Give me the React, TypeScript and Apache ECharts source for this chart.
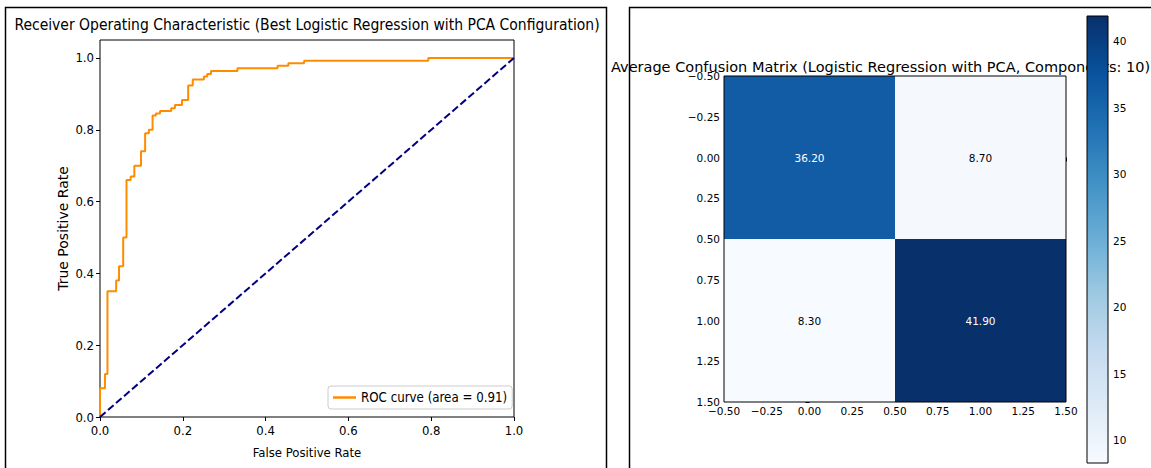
import React, { useEffect, useRef } from "react";
import * as echarts from "echarts";

// ROC curve corner points (false positive rate, true positive rate)
const fpr = [0, 0, 0.012, 0.012, 0.018, 0.018, 0.039, 0.039, 0.046, 0.046, 0.056, 0.056, 0.064, 0.064, 0.074, 0.074, 0.083, 0.083, 0.099, 0.099, 0.109, 0.109, 0.118, 0.118, 0.127, 0.127, 0.135, 0.135, 0.145, 0.145, 0.172, 0.172, 0.181, 0.181, 0.198, 0.198, 0.213, 0.213, 0.224, 0.224, 0.251, 0.251, 0.259, 0.259, 0.268, 0.268, 0.332, 0.332, 0.429, 0.429, 0.455, 0.455, 0.493, 0.493, 0.793, 0.793, 1.0];
const tpr = [0, 0.08, 0.08, 0.12, 0.12, 0.35, 0.35, 0.38, 0.38, 0.42, 0.42, 0.5, 0.5, 0.66, 0.66, 0.67, 0.67, 0.7, 0.7, 0.74, 0.74, 0.79, 0.79, 0.8, 0.8, 0.84, 0.84, 0.845, 0.845, 0.852, 0.852, 0.86, 0.86, 0.869, 0.869, 0.883, 0.883, 0.923, 0.923, 0.94, 0.94, 0.948, 0.948, 0.955, 0.955, 0.964, 0.964, 0.971, 0.971, 0.978, 0.978, 0.985, 0.985, 0.992, 0.992, 1.0, 1.0];
const rocAuc = 0.91;
const chanceLine = [[0, 0], [1, 1]];
const rocTicks = [0, 0.2, 0.4, 0.6, 0.8, 1.0];

// Averaged confusion matrix cells (column, row, value)
const cmCols = [0, 1, 0, 1];
const cmRows = [0, 0, 1, 1];
const cmValues = [36.2, 8.7, 8.3, 41.9];
const nComponents = 10;

// Colour bar range and ticks
const cbMin = Math.min(...cmValues);
const cbMax = Math.max(...cmValues);
const cbTicks = [10, 15, 20, 25, 30, 35, 40];

// matplotlib "Blues" colormap
const blues = ["#f7fbff", "#deebf7", "#c6dbef", "#9ecae1", "#6baed6", "#4292c6", "#2171b5", "#08519c", "#08306b"];

const hexToRgb = (h: string) => [1, 3, 5].map((i) => parseInt(h.slice(i, i + 2), 16));
const bluesAt = (t: number) => {
  const c = Math.max(0, Math.min(1, t)) * (blues.length - 1);
  const i = Math.min(blues.length - 2, Math.floor(c));
  const f = c - i;
  const a = hexToRgb(blues[i]);
  const b = hexToRgb(blues[i + 1]);
  const m = a.map((v, k) => Math.round(v + (b[k] - v) * f));
  return `rgb(${m[0]},${m[1]},${m[2]})`;
};

const narrow = "'DejaVu Sans Condensed', 'Liberation Sans Narrow', 'DejaVu Sans', sans-serif";
const dejavu = "'DejaVu Sans', sans-serif";
const fmtSigned = (v: number) => (v < -1e-9 ? "\u2212" : "") + Math.abs(v).toFixed(2);

export default function App() {
  const ref = useRef<HTMLDivElement>(null);

  useEffect(() => {
    if (!ref.current) return;
    const chart = echarts.init(ref.current, undefined, { renderer: "svg" });
    const legendName = `ROC curve (area = ${rocAuc.toFixed(2)})`;
    const threshold = (cbMin + cbMax) / 2;

    const option: any = {
      animation: false,
      backgroundColor: "#fff",
      grid: [
        { left: 100, top: 40, width: 414, height: 377, show: true, borderColor: "#000", borderWidth: 1, backgroundColor: "transparent" },
        { left: 724, top: 76, width: 342, height: 326, show: false },
        { left: 1087, top: 16, width: 21, height: 447, show: false },
      ],
      xAxis: [
        {
          gridIndex: 0, type: "value", min: 0, max: 1, interval: 0.2,
          axisLine: { show: false }, splitLine: { show: false },
          axisTick: { length: 4, lineStyle: { color: "#000" } },
          axisLabel: { formatter: (v: number) => v.toFixed(1), color: "#000", fontFamily: narrow, fontSize: 13, margin: 7 },
          name: "False Positive Rate", nameLocation: "middle", nameGap: 29,
          nameTextStyle: { color: "#000", fontFamily: narrow, fontSize: 13 },
        },
        {
          gridIndex: 1, type: "value", min: -0.5, max: 1.5, interval: 0.25,
          axisLine: { show: false }, splitLine: { show: false },
          axisTick: { length: 4, lineStyle: { color: "#000" } },
          axisLabel: { formatter: fmtSigned, color: "#000", fontFamily: dejavu, fontSize: 10.5, margin: 3 },
        },
        { gridIndex: 2, type: "value", min: 0, max: 1, show: false },
      ],
      yAxis: [
        {
          gridIndex: 0, type: "value", min: 0, max: 1.05,
          axisLine: { show: false }, splitLine: { show: false },
          axisTick: { length: 4, lineStyle: { color: "#000" }, customValues: rocTicks },
          axisLabel: { formatter: (v: number) => v.toFixed(1), color: "#000", fontFamily: narrow, fontSize: 13, margin: 6, customValues: rocTicks },
          name: "True Positive Rate", nameLocation: "middle", nameGap: 30,
          nameTextStyle: { color: "#000", fontFamily: dejavu, fontSize: 14 },
        },
        {
          gridIndex: 1, type: "value", min: -0.5, max: 1.5, interval: 0.25, inverse: true,
          axisLine: { show: false }, splitLine: { show: false },
          axisTick: { length: 4, lineStyle: { color: "#000" } },
          axisLabel: { formatter: fmtSigned, color: "#000", fontFamily: dejavu, fontSize: 10.5, margin: 4 },
        },
        {
          gridIndex: 2, type: "value", min: cbMin, max: cbMax, position: "right",
          axisLine: { show: false }, splitLine: { show: false },
          axisTick: { length: 4, lineStyle: { color: "#000" }, customValues: cbTicks },
          axisLabel: { color: "#000", fontFamily: dejavu, fontSize: 10.5, margin: 5, customValues: cbTicks },
        },
      ],
      legend: {
        data: [legendName],
        left: 328, top: 386,
        icon: "rect", itemWidth: 23, itemHeight: 2.5, itemGap: 6,
        padding: [5, 5, 5, 5],
        borderColor: "#ccc", borderWidth: 1, borderRadius: 3,
        backgroundColor: "rgba(255,255,255,0.8)",
        textStyle: { color: "#000", fontFamily: narrow, fontSize: 13.2 },
      },
      graphic: [
        { type: "rect", z: 0, shape: { x: 5.5, y: 7.5, width: 601, height: 480 }, style: { fill: "none", stroke: "#000", lineWidth: 1.5 } },
        { type: "rect", z: 0, shape: { x: 629.5, y: 7.5, width: 540, height: 480 }, style: { fill: "none", stroke: "#000", lineWidth: 1.5 } },
        {
          type: "text", z: 0, x: 307, y: 25,
          style: { text: "Receiver Operating Characteristic (Best Logistic Regression with PCA Configuration)", align: "center", verticalAlign: "middle", fill: "#000", font: `15.5px ${narrow}` },
        },
        {
          type: "text", z: 0, x: 611, y: 67,
          style: { text: `Average Confusion Matrix (Logistic Regression with PCA, Components: ${nComponents})`, align: "left", verticalAlign: "middle", fill: "#000", font: `14.5px ${dejavu}` },
        },
      ],
      series: [
        {
          name: legendName, type: "line", xAxisIndex: 0, yAxisIndex: 0,
          data: fpr.map((x, i) => [x, tpr[i]]),
          showSymbol: false, symbol: "none", clip: false,
          lineStyle: { color: "#ff8c00", width: 2 }, itemStyle: { color: "#ff8c00" }, z: 3,
        },
        {
          name: "chance", type: "line", xAxisIndex: 0, yAxisIndex: 0,
          data: chanceLine, showSymbol: false, symbol: "none", clip: false,
          lineStyle: { color: "#000080", width: 2, type: [7.4, 3.2] }, z: 4,
        },
        {
          type: "custom", xAxisIndex: 1, yAxisIndex: 1, z: 2,
          data: cmValues.map((v, i) => [cmCols[i], cmRows[i], v]),
          renderItem: (_p: any, api: any) => {
            const c = api.value(0), r = api.value(1), v = api.value(2);
            const p0 = api.coord([c - 0.5, r - 0.5]);
            const p1 = api.coord([c + 0.5, r + 0.5]);
            const x = Math.min(p0[0], p1[0]), y = Math.min(p0[1], p1[1]);
            const w = Math.abs(p1[0] - p0[0]), h = Math.abs(p1[1] - p0[1]);
            return {
              type: "group",
              children: [
                { type: "rect", shape: { x, y, width: w, height: h }, style: { fill: bluesAt((v - cbMin) / (cbMax - cbMin)) } },
                { type: "text", x: x + w / 2, y: y + h / 2, style: { text: v.toFixed(2), align: "center", verticalAlign: "middle", fill: v > threshold ? "#fff" : "#000", font: `10.5px ${dejavu}` } },
              ],
            };
          },
        },
        {
          // heatmap frame
          type: "custom", xAxisIndex: 1, yAxisIndex: 1, z: 3,
          data: [[0]],
          renderItem: (_p: any, api: any) => {
            const p0 = api.coord([-0.5, -0.5]);
            const p1 = api.coord([1.5, 1.5]);
            return { type: "rect", shape: { x: p0[0], y: p0[1], width: p1[0] - p0[0], height: p1[1] - p0[1] }, style: { fill: "none", stroke: "#000", lineWidth: 1 } };
          },
        },
        {
          // colour bar
          type: "custom", xAxisIndex: 2, yAxisIndex: 2, z: 5,
          data: [[0, cbMin, cbMax]],
          renderItem: (_p: any, api: any) => {
            const top = api.coord([0, api.value(2)]);
            const bot = api.coord([1, api.value(1)]);
            return {
              type: "rect",
              shape: { x: top[0], y: top[1], width: bot[0] - top[0], height: bot[1] - top[1] },
              style: {
                fill: {
                  type: "linear", x: 0, y: 1, x2: 0, y2: 0,
                  colorStops: blues.map((col, i) => ({ offset: i / (blues.length - 1), color: col })),
                },
                stroke: "#000", lineWidth: 1,
              },
            };
          },
        },
      ],
    };

    chart.setOption(option);
    return () => chart.dispose();
  }, []);

  return <div ref={ref} style={{ position: "fixed", left: 0, top: 0, width: 1151, height: 468 }} />;
}
